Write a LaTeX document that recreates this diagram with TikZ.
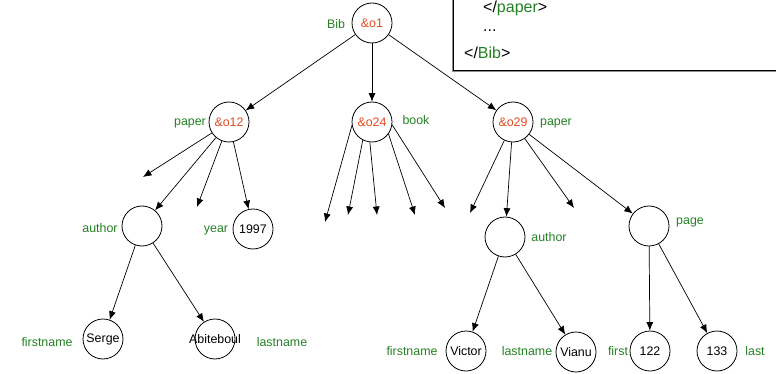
\documentclass[tikz,border=0pt]{standalone}
\usepackage{fontspec}
\setmainfont{Liberation Sans}
\usetikzlibrary{arrows.meta}

\definecolor{oidred}{RGB}{226,74,30}
\definecolor{taggreen}{RGB}{36,128,36}

\tikzset{
  obj/.style={circle, draw, line width=0.8pt, minimum size=40pt, inner sep=0pt,
              font=\fontsize{12.4}{14}\selectfont},
  oid/.style={obj, text=oidred},
  tag/.style={text=taggreen, inner sep=0pt, font=\fontsize{12.4}{14}\selectfont},
  edge/.style={->, line width=0.7pt},
}

\begin{document}
\begin{tikzpicture}[x=1pt, y=-1pt, >={Latex[length=8.5pt, width=7pt]}]
                \useasboundingbox (0,0) rectangle (776,374);

                % the xml box, cut by the page edge
                \fill [black!45] (451.5,-10) rectangle (790,72);
                \draw [line width=0.9pt, fill=white] (453,-12) rectangle (792,70);
                \node [anchor=west, inner sep=0pt, font=\fontsize{16}{18}\selectfont] (xpaper) at (483,8.5)
                    {</\textcolor{taggreen}{paper}>};
                \node [anchor=west, inner sep=0pt, font=\fontsize{16}{18}\selectfont] (xdots) at (483,31) {...};
                \node [anchor=west, inner sep=0pt, font=\fontsize{16}{18}\selectfont] (xbib) at (464,53)
                    {</\textcolor{taggreen}{Bib}>};

                % objects
                \node [oid] (o1) at (372,23) {\&o1};
                \node [oid] (o12) at (229,122) {\&o12};
                \node [oid] (o24) at (372,122) {\&o24};
                \node [oid] (o29) at (513,122) {\&o29};

                \node [obj] (auth1) at (142,226) {};
                \node [obj] (year) at (253,229) {1997};
                \node [obj] (serge) at (103,339) {Serge};
                \node [obj, label={[font=\fontsize{12.4}{14}\selectfont]center:Abiteboul}] (abit) at (215,339) {};

                \node [obj] (auth2) at (505,237) {};
                \node [obj] (page) at (649,226) {};
                \node [obj] (victor) at (466,351) {Victor};
                \node [obj] (vianu) at (576,352) {Vianu};
                \node [obj] (p122) at (650,351) {122};
                \node [obj] (p133) at (717,351) {133};

                % labels
                \node [tag] (lbib) at (336,24) {Bib};
                \node [tag] (lpaper1) at (190,123) {paper};
                \node [tag] (lbook) at (416,120) {book};
                \node [tag] (lpaper2) at (556,123) {paper};
                \node [tag] (lauth1) at (100,228) {author};
                \node [tag] (lyear) at (216,230) {year};
                \node [tag] (lfirst1) at (47,342) {firstname};
                \node [tag] (llast1) at (282,342) {lastname};
                \node [tag] (lauth2) at (549,237) {author};
                \node [tag] (lpage) at (690,222) {page};
                \node [tag] (lfirst2) at (412,351) {firstname};
                \node [tag] (llast2) at (527,351) {lastname};
                \node [tag] (lfirst3) at (618,351) {first};
                \node [tag] (llast3) at (755,351) {last};

                % loose ends
                \coordinate (e1) at (143,177);
                \coordinate (e2) at (197,207);
                \coordinate (f1) at (325,222);
                \coordinate (f2) at (348,215);
                \coordinate (f3) at (377,215);
                \coordinate (f4) at (415,215);
                \coordinate (f5) at (445,208);
                \coordinate (g1) at (470,213);
                \coordinate (g2) at (574,208);

                \draw [edge] (o1) -- (o12);
                \draw [edge] (o1) -- (o24);
                \draw [edge] (o1) -- (o29);

                \draw [edge] (o12) -- (e1);
                \draw [edge] (o12) -- (auth1);
                \draw [edge] (o12) -- (e2);
                \draw [edge] (o12) -- (year);

                \draw [edge] (o24.190) -- (f1);
                \draw [edge] (o24.243) -- (f2);
                \draw [edge] (o24.264) -- (f3);
                \draw [edge] (o24.324) -- (f4);
                \draw [edge] (o24.352) -- (f5);

                \draw [edge] (o29) -- (g1);
                \draw [edge] (o29) -- (auth2);
                \draw [edge] (o29) -- (g2);
                \draw [edge] (o29) -- (page);

                \draw [edge] (auth1) -- (serge);
                \draw [edge] (auth1) -- (abit);
                \draw [edge] (auth2) -- (victor);
                \draw [edge] (auth2) -- (vianu);
                \draw [edge] (page) -- (p122);
                \draw [edge] (page) -- (p133);
            \end{tikzpicture}
\end{document}
